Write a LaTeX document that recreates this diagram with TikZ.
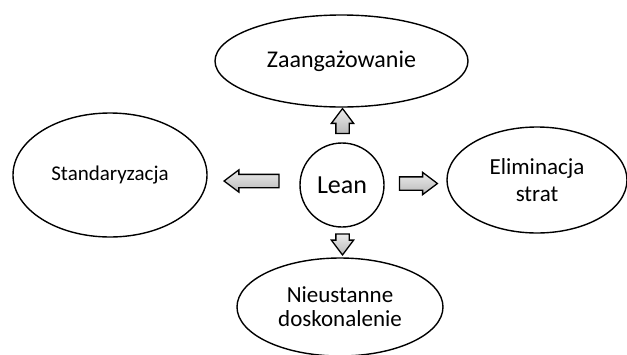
\documentclass[tikz,border=0pt]{standalone}
\usepackage{fontspec}
\setmainfont{Carlito}
\usetikzlibrary{shapes.geometric, shapes.arrows}

\tikzset{
  idea/.style={draw, ellipse, line width=1.4pt, inner sep=0pt, align=center,
    font=\fontsize{21}{26}\selectfont},
  blockarrow/.style={single arrow, draw, line width=1.3pt, inner xsep=0pt,
    inner ysep=6pt, single arrow head extend=4.5pt, single arrow tip angle=74,
    top color=gray!15, bottom color=gray!55}
}

\begin{document}
\begin{tikzpicture}[x=1pt, y=-1pt]
  \useasboundingbox (0,0) rectangle (627,354);
  % centre
  \node[draw, circle, line width=1.4pt, minimum size=84pt, inner sep=0pt,
    font=\fontsize{26}{30}\selectfont] (lean) at (342,185) {Lean};
  % ellipses
  \node[idea, minimum width=253pt, minimum height=92pt,
    font=\fontsize{24}{28}\selectfont] (zaang) at (341.5,61) {Zaangażowanie};
  \node[idea, minimum width=194pt, minimum height=124pt] (standard) at (110,175) {Standaryzacja};
  \node[idea, minimum width=180pt, minimum height=106pt,
    font=\fontsize{23}{27}\selectfont] (elim) at (537,180) {Eliminacja\\strat};
  \node[idea, minimum width=206pt, minimum height=98pt,
    font=\fontsize{23}{24}\selectfont] (kaizen) at (340,307) {Nieustanne\\doskonalenie};
  % arrows
  \node[blockarrow, rotate=90, minimum height=25pt] (up) at (342.5,125.5) {};
  \node[blockarrow, rotate=-90, minimum height=21pt] (down) at (342.5,240) {};
  \node[blockarrow, minimum height=38pt] (right) at (414,183.5) {};
  \node[blockarrow, rotate=180, minimum height=55pt] (left) at (256,181) {};
\end{tikzpicture}
\end{document}
